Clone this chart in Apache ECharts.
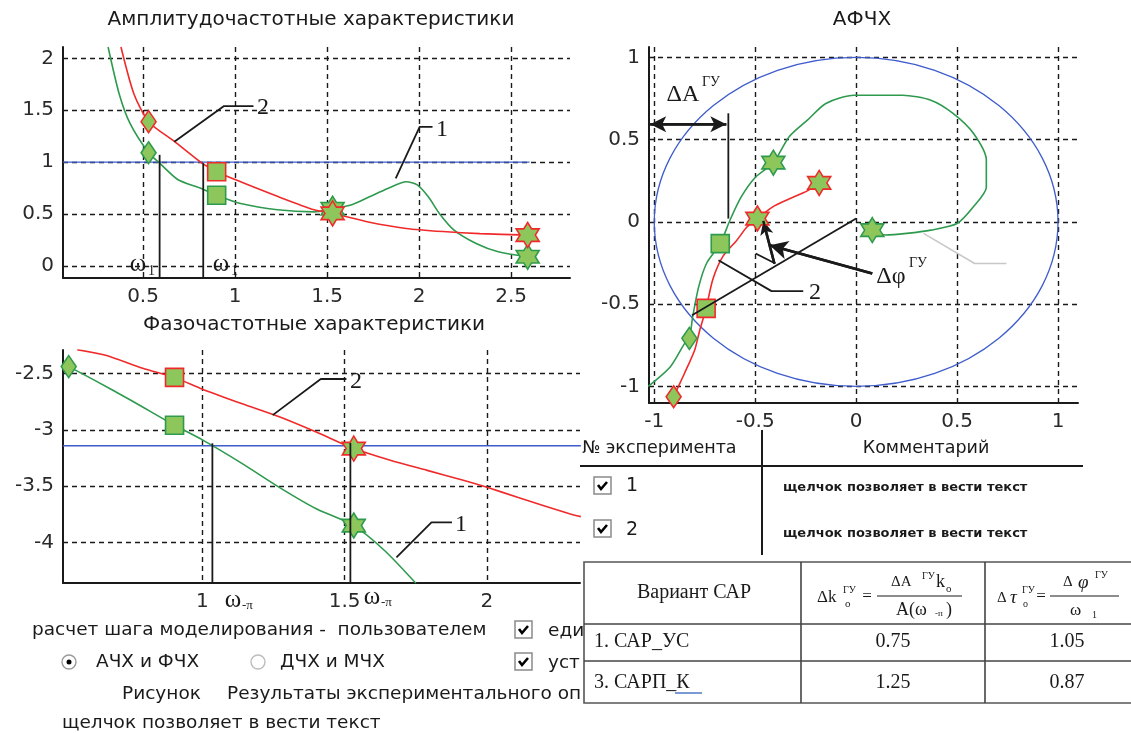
<!DOCTYPE html>
<html>
<head>
<meta charset="utf-8">
<title>АЧХ, ФЧХ и АФЧХ</title>
<script src="https://cdn.jsdelivr.net/npm/echarts@6/dist/echarts.min.js"></script>
<style>
  html, body { margin: 0; padding: 0; background: #fff; }
  #chart { width: 1131px; height: 733px; }
</style>
</head>
<body>
<div id="chart"></div>
<script>
// --- tick labels ---
const ampTicksX = [0.5, 1, 1.5, 2, 2.5];
const ampTicksY = [0, 0.5, 1, 1.5, 2];
const phaseTicksX = [1, 1.5, 2];
const phaseTicksY = [-2.5, -3, -3.5, -4];
const nyqTicks = [-1, -0.5, 0, 0.5, 1];

// --- АЧХ (1 - green, 2 - red) ---
const ampCurve1 = [[0.31, 2.11], [0.37, 1.66], [0.43, 1.37], [0.53, 1.09], [0.59, 0.99], [0.69, 0.83], [0.81, 0.75],
  [0.90, 0.68], [1.03, 0.60], [1.23, 0.54], [1.43, 0.52], [1.53, 0.55], [1.63, 0.585], [1.73, 0.665], [1.83, 0.745],
  [1.93, 0.81], [1.99, 0.78], [2.05, 0.665], [2.11, 0.505], [2.19, 0.344], [2.31, 0.215], [2.43, 0.135], [2.59, 0.087]];
const ampCurve2 = [[0.38, 2.11], [0.45, 1.66], [0.53, 1.39], [0.67, 1.2], [0.82, 0.99], [0.90, 0.907], [1.03, 0.81],
  [1.23, 0.67], [1.43, 0.54], [1.53, 0.505], [1.73, 0.42], [1.93, 0.36], [2.13, 0.33], [2.33, 0.31], [2.59, 0.296]];
const ampMarks1 = [['diamond', 0.53, 1.09], ['square', 0.90, 0.68], ['star', 1.53, 0.55], ['star', 2.59, 0.087]];
const ampMarks2 = [['diamond', 0.53, 1.39], ['square', 0.90, 0.907], ['star', 1.53, 0.505], ['star', 2.59, 0.296]];
const ampLevel = [[0.065, 1], [2.6, 1]];
const ampOmega = [[[0.59, 1.07], [0.59, -0.12]], [[0.827, 0.99], [0.827, -0.12]]];
const ampLeaders = [[[0.67, 1.196], [0.94, 1.54], [1.10, 1.54]], [[1.873, 0.842], [2.003, 1.34], [2.073, 1.34]]];

// --- ФЧХ ---
const phaseCurve1 = [[0.53, -2.44], [0.62, -2.56], [0.75, -2.74], [0.902, -2.96], [1.0, -3.09], [1.14, -3.30],
  [1.27, -3.51], [1.40, -3.70], [1.532, -3.849], [1.64, -4.07], [1.75, -4.36]];
const phaseCurve2 = [[0.56, -2.29], [0.66, -2.34], [0.79, -2.455], [0.902, -2.536], [1.0, -2.64], [1.14, -2.77],
  [1.27, -2.885], [1.40, -3.02], [1.532, -3.167], [1.66, -3.27], [1.79, -3.36], [1.92, -3.45], [2.0, -3.51],
  [2.11, -3.60], [2.29, -3.745], [2.33, -3.77]];
const phaseMarks1 = [['diamond', 0.53, -2.44], ['square', 0.902, -2.96], ['star', 1.532, -3.849]];
const phaseMarks2 = [['square', 0.902, -2.536], ['star', 1.532, -3.167]];
const phaseLevel = [[0.51, -3.1416], [2.33, -3.1416]];
const phaseOmega = [[[1.035, -3.12], [1.035, -4.36]], [[1.52, -3.117], [1.52, -4.36]]];
const phaseLeaders = [[[1.247, -2.87], [1.416, -2.55], [1.506, -2.55]], [[1.682, -4.13], [1.805, -3.82], [1.877, -3.82]]];

// --- АФЧХ ---
const nyqCurve1 = [[-1.03, -1.0], [-0.92, -0.88], [-0.85, -0.74], [-0.826, -0.708], [-0.81, -0.58], [-0.78, -0.395],
  [-0.74, -0.25], [-0.673, -0.132], [-0.625, 0.01], [-0.57, 0.15], [-0.50, 0.27], [-0.41, 0.36], [-0.33, 0.52],
  [-0.24, 0.62], [-0.15, 0.72], [-0.01, 0.77], [0.11, 0.77], [0.23, 0.77], [0.37, 0.74], [0.48, 0.66], [0.58, 0.54],
  [0.645, 0.375], [0.645, 0.21], [0.58, 0.09], [0.50, -0.01], [0.37, -0.05], [0.25, -0.07], [0.145, -0.08], [0.08, -0.05]];
const nyqCurve2 = [[-0.915, -1.10], [-0.904, -1.063], [-0.85, -0.92], [-0.80, -0.78], [-0.775, -0.66], [-0.743, -0.526],
  [-0.71, -0.35], [-0.66, -0.21], [-0.59, -0.11], [-0.54, -0.03], [-0.489, 0.02], [-0.415, 0.09], [-0.33, 0.14],
  [-0.24, 0.19], [-0.183, 0.237]];
const nyqMarks1 = [['diamond', -0.826, -0.708], ['square', -0.673, -0.132], ['star', -0.41, 0.36], ['star', 0.08, -0.05]];
const nyqMarks2 = [['diamond', -0.904, -1.063], ['square', -0.743, -0.526], ['star', -0.489, 0.02], ['star', -0.183, 0.237]];
const unitCircle = [[0, 0, 1]];
const nyqLines = [
  [[-0.633, 0.66], [-0.633, 0.02]],
  [[0.0, 0.02], [-0.813, -0.567]],
  [[-0.498, -0.192], [-0.40, -0.253]],
  [[-0.682, -0.233], [-0.419, -0.421], [-0.262, -0.421]]
];
const nyqGrayLine = [[0.334, -0.07], [0.587, -0.253], [0.745, -0.253]];
const nyqArrowA = [[-1.02, 0.594], [-0.643, 0.594]];
const nyqArrowPhi = [[0.08, -0.314], [-0.428, -0.142]];
const nyqArrowSmall = [[-0.405, -0.253], [-0.46, 0.006]];

// --- таблица ---
const tableRows = ['1. САР_УС', '3. САРП_К'];
const tableDk = ['0.75', '1.25'];
const tableDtau = ['1.05', '0.87'];

const RED = '#f02a2a', GREEN = '#2e9a4e', BLUE = '#3e5ccc', FILL = '#8dc75c', INK = '#1a1a1a';
const SANS = '"DejaVu Sans", sans-serif';
const SERIF = '"Liberation Serif", "Times New Roman", serif';

// шестиконечная звезда
const starPts = [];
for (let k = 0; k < 12; k++) {
  const a = (-90 + 30 * k) * Math.PI / 180;
  const r = k % 2 === 0 ? 1 : 0.5774;
  starPts.push((Math.cos(a) * r).toFixed(3) + ' ' + (Math.sin(a) * r).toFixed(3));
}
const STAR = 'path://M' + starPts.join(' L') + ' Z';
const SHAPES = { diamond: ['diamond', [15, 22]], square: ['rect', [18, 18]], star: [STAR, [23, 25]] };

function axis(idx, min, max, ticks) {
  return {
    type: 'value', gridIndex: idx, min, max,
    axisLine: { show: true, onZero: false, lineStyle: { color: INK, width: 2 } },
    axisTick: { show: false, customValues: ticks },
    axisLabel: { customValues: ticks, color: '#2a2a2a', fontSize: 20, fontFamily: 'DejaVu Sans', margin: 9 },
    splitLine: { show: true, lineStyle: { color: INK, width: 1.4, type: [5, 4] } }
  };
}
function curve(idx, data, color) {
  return { type: 'line', xAxisIndex: idx, yAxisIndex: idx, data, smooth: 0.25, showSymbol: false,
    lineStyle: { color, width: 1.6 }, z: 4, silent: true };
}
function poly(idx, data, color, width, z) {
  return { type: 'line', xAxisIndex: idx, yAxisIndex: idx, data, showSymbol: false,
    lineStyle: { color, width }, z: z || 7, silent: true };
}
function arrow(idx, seg, both, size) {
  return { type: 'line', xAxisIndex: idx, yAxisIndex: idx, data: seg, showSymbol: false,
    lineStyle: { color: INK, width: 2.5 }, z: 8, silent: true,
    markLine: { silent: true, symbol: [both ? 'arrow' : 'none', 'arrow'], symbolSize: size,
      label: { show: false }, lineStyle: { color: INK, width: 2.5, type: 'solid' },
      data: [[{ coord: seg[0] }, { coord: seg[1] }]] } };
}
function marks(idx, list, edge) {
  return { type: 'scatter', xAxisIndex: idx, yAxisIndex: idx, z: 6, silent: true,
    data: list.map(m => ({ value: [m[1], m[2]], symbol: SHAPES[m[0]][0], symbolSize: SHAPES[m[0]][1] })),
    itemStyle: { color: FILL, borderColor: edge, borderWidth: 1.6, opacity: 1 } };
}
function txt(text, x, y, size, family, align, extra) {
  return Object.assign({ type: 'text', z: 100,
    style: { text, x, y, font: (extra && extra.weight ? extra.weight + ' ' : '') + size + 'px ' + family,
      fill: INK, align: align || 'left', textAlign: align || 'left', verticalAlign: 'middle', textVerticalAlign: 'middle' } },
    extra && extra.z ? { z: extra.z } : {});
}
function line(x1, y1, x2, y2, color, w, z) {
  return { type: 'line', z: z || 101, shape: { x1, y1, x2, y2 }, style: { stroke: color || INK, lineWidth: w || 1.5 } };
}
function checkbox(x, y) {
  return [
    { type: 'rect', z: 100, shape: { x, y, width: 17, height: 17 }, style: { fill: '#fff', stroke: '#8a8a8a', lineWidth: 1.5 } },
    { type: 'polyline', z: 101, shape: { points: [[x + 4, y + 8], [x + 7, y + 12], [x + 13, y + 5]] }, style: { fill: null, stroke: '#000', lineWidth: 2.6 } }
  ];
}

const series = [
  poly(0, ampLevel, BLUE, 1.3, 3),
  curve(0, ampCurve1, GREEN), curve(0, ampCurve2, RED),
  marks(0, ampMarks1, GREEN), marks(0, ampMarks2, RED),
  ...ampOmega.map(s => poly(0, s, INK, 1.8)),
  ...ampLeaders.map(s => poly(0, s, INK, 1.8)),

  poly(1, phaseLevel, BLUE, 1.3, 3),
  curve(1, phaseCurve1, GREEN), curve(1, phaseCurve2, RED),
  marks(1, phaseMarks1, GREEN), marks(1, phaseMarks2, RED),
  ...phaseOmega.map(s => poly(1, s, INK, 1.8)),
  ...phaseLeaders.map(s => poly(1, s, INK, 1.8)),

  {
    type: 'custom', xAxisIndex: 2, yAxisIndex: 2, data: unitCircle, z: 3, silent: true,
    renderItem: (params, api) => {
      const c = api.coord([api.value(0), api.value(1)]);
      const s = api.size([api.value(2), api.value(2)]);
      return { type: 'ellipse', shape: { cx: c[0], cy: c[1], rx: s[0], ry: s[1] },
        style: { fill: 'none', stroke: BLUE, lineWidth: 1.3 } };
    }
  },
  curve(2, nyqCurve1, GREEN), curve(2, nyqCurve2, RED),
  marks(2, nyqMarks1, GREEN), marks(2, nyqMarks2, RED),
  poly(2, nyqGrayLine, '#c8c8c8', 1.5, 2),
  ...nyqLines.map(s => poly(2, s, INK, 1.8)),
  arrow(2, nyqArrowA, true, [12, 16]),
  arrow(2, nyqArrowPhi, false, [14, 18]),
  arrow(2, nyqArrowSmall, false, [10, 14])
];

const graphics = [
  txt('Амплитудочастотные характеристики', 311, 20, 20, SANS, 'center'),
  txt('Фазочастотные характеристики', 314, 325, 20, SANS, 'center'),
  txt('АФЧХ', 862, 20, 20, SANS, 'center'),

  txt('ω', 138, 264, 25, SERIF, 'center'), txt('1', 148, 271, 14, SERIF),
  txt('ω', 221, 264, 25, SERIF, 'center'), txt('1', 231, 271, 14, SERIF),
  txt('2', 263, 108, 24, SERIF, 'center'),
  txt('1', 442, 130, 24, SERIF, 'center'),

  txt('ω', 233, 600, 25, SERIF, 'center'), txt('-π', 242, 606, 13, SERIF),
  txt('ω', 372, 597, 25, SERIF, 'center'), txt('-π', 381, 603, 13, SERIF),
  txt('2', 356, 382, 24, SERIF, 'center'),
  txt('1', 461, 525, 24, SERIF, 'center'),

  txt('ΔA', 683, 95, 24, SERIF, 'center'), txt('ГУ', 702, 82, 14, SERIF),
  txt('Δφ', 891, 277, 24, SERIF, 'center'), txt('ГУ', 909, 263, 14, SERIF),
  txt('2', 815, 293, 24, SERIF, 'center'),

  // таблица экспериментов
  txt('№ эксперимента', 582, 448, 17.5, SANS),
  txt('Комментарий', 926, 448, 17.5, SANS, 'center'),
  line(580, 466, 1083, 466, INK, 2),
  line(762, 430, 762, 555, INK, 2),
  ...checkbox(594, 477), txt('1', 626, 486, 19, SANS),
  txt('щелчок позволяет в вести текст', 783, 488, 13, SANS, 'left', { weight: 'bold' }),
  ...checkbox(594, 520), txt('2', 626, 530, 19, SANS),
  txt('щелчок позволяет в вести текст', 783, 534, 13, SANS, 'left', { weight: 'bold' }),

  // элементы управления
  txt('расчет шага моделирования -  пользователем', 32, 630, 18.5, SANS, 'left', { z: 90 }),
  ...checkbox(515, 621), txt('еди', 548, 631, 18.5, SANS, 'left', { z: 90 }),
  { type: 'circle', z: 100, shape: { cx: 69, cy: 662, r: 7 }, style: { fill: '#fff', stroke: '#9a9a9a', lineWidth: 1.4 } },
  { type: 'circle', z: 101, shape: { cx: 69, cy: 662, r: 2.5 }, style: { fill: '#000' } },
  txt('АЧХ и ФЧХ', 96, 662, 18.5, SANS, 'left', { z: 90 }),
  { type: 'circle', z: 100, shape: { cx: 258, cy: 662, r: 7 }, style: { fill: '#fff', stroke: '#bdbdbd', lineWidth: 1.4 } },
  txt('ДЧХ и МЧХ', 280, 662, 18.5, SANS, 'left', { z: 90 }),
  ...checkbox(515, 653), txt('уст', 548, 663, 18.5, SANS, 'left', { z: 90 }),
  txt('Рисунок', 122, 694, 18.5, SANS, 'left', { z: 90 }),
  txt('Результаты экспериментального оп', 227, 694, 18.5, SANS, 'left', { z: 90 }),
  txt('щелчок позволяет в вести текст', 62, 723, 18.5, SANS, 'left', { z: 90 }),

  // таблица вариантов
  { type: 'rect', z: 100, shape: { x: 584, y: 562, width: 560, height: 141 }, style: { fill: '#fff', stroke: '#555', lineWidth: 1.6 } },
  line(801, 562, 801, 703, '#444', 1.6), line(985, 562, 985, 703, '#444', 1.6),
  line(584, 624, 1131, 624, '#444', 1.6), line(584, 661, 1131, 661, '#444', 1.6),
  txt('Вариант САР', 694, 593, 20, SERIF, 'center'),
  txt('Δk', 817, 598, 17, SERIF), txt('ГУ', 843, 590, 10, SERIF), txt('o', 845, 604, 11, SERIF),
  txt('=', 867, 597, 17, SERIF, 'center'),
  line(877, 596, 962, 596, INK, 1),
  txt('ΔA', 891, 582, 15, SERIF), txt('ГУ', 922, 576, 10, SERIF), txt('k', 936, 582, 18, SERIF), txt('o', 946, 589, 11, SERIF),
  txt('A(ω', 896, 610, 18, SERIF), txt('-п', 935, 614, 9, SERIF), txt(')', 946, 610, 18, SERIF),
  txt('Δ', 997, 598, 15, SERIF), txt('τ', 1010, 598, 19, SERIF, 'left', { weight: 'italic' }),
  txt('ГУ', 1022, 590, 10, SERIF), txt('o', 1023, 604, 10, SERIF),
  txt('=', 1041, 597, 17, SERIF, 'center'),
  line(1050, 596, 1119, 596, INK, 1),
  txt('Δ', 1063, 582, 15, SERIF), txt('φ', 1078, 583, 19, SERIF, 'left', { weight: 'italic' }), txt('ГУ', 1095, 575, 10, SERIF),
  txt('ω', 1070, 611, 17, SERIF), txt('1', 1092, 615, 10, SERIF),
  ...tableRows.map((t, i) => txt(t, 594, 642 + i * 41, 20, SERIF)),
  ...tableDk.map((t, i) => txt(t, 893, 642 + i * 41, 20, SERIF, 'center')),
  ...tableDtau.map((t, i) => txt(t, 1067, 642 + i * 41, 20, SERIF, 'center')),
  line(675, 693, 702, 693, '#7a9ad6', 2)
];

const chart = echarts.init(document.getElementById('chart'), null, { renderer: 'canvas' });
chart.setOption({
  animation: false,
  backgroundColor: '#fff',
  grid: [
    { left: 63, top: 47, width: 507, height: 231 },
    { left: 63, top: 350, width: 517, height: 233 },
    { left: 649, top: 47, width: 429, height: 356 }
  ],
  xAxis: [
    axis(0, 0.065, 2.82, ampTicksX),
    axis(1, 0.51, 2.327, phaseTicksX),
    axis(2, -1.026, 1.099, nyqTicks)
  ],
  yAxis: [
    axis(0, -0.118, 2.11, ampTicksY),
    axis(1, -4.358, -2.293, phaseTicksY),
    axis(2, -1.101, 1.063, nyqTicks)
  ],
  series,
  graphic: { elements: graphics }
});
</script>
</body>
</html>
